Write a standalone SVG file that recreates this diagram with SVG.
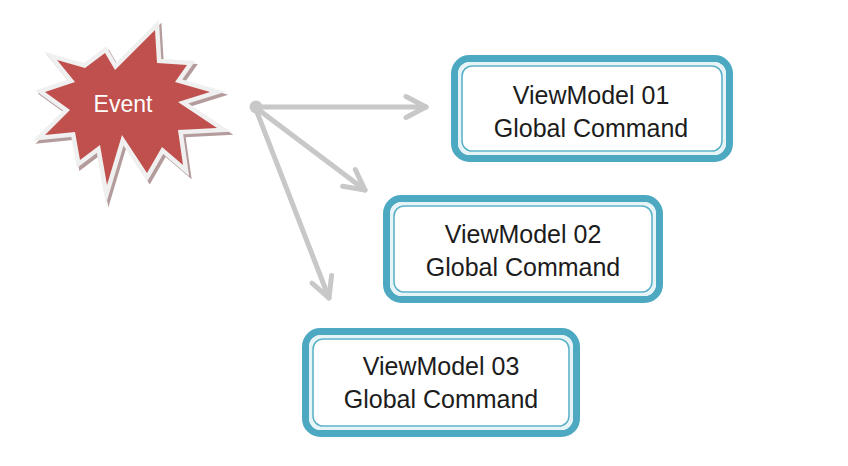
<svg xmlns="http://www.w3.org/2000/svg" width="848" height="466" viewBox="0 0 848 466">
  <style>
    .lbl { font-family: "Liberation Sans", Arial, sans-serif; font-size: 25px; fill: #1c1c1c; text-anchor: middle; }
    .evt { font-family: "Liberation Sans", Arial, sans-serif; font-size: 23px; fill: #ffffff; text-anchor: middle; }
    .outer { fill: #ffffff; stroke: #4DA8C1; stroke-width: 7; }
    .band { fill: none; stroke: #e6f4f8; stroke-width: 3; }
    .inner { fill: none; stroke: #5BB2C9; stroke-width: 1.6; }
    .conn { stroke: #C8C8C8; stroke-width: 5; fill: none; stroke-linecap: round; }
  </style>
  <defs>
    <marker id="arr" markerUnits="userSpaceOnUse" markerWidth="40" markerHeight="40" viewBox="-30 -20 40 40" refX="0" refY="0" orient="auto" overflow="visible">
      <path d="M -20 -10.5 L 0 0 L -20 10.5" fill="none" stroke="#C8C8C8" stroke-width="5" stroke-linecap="round" stroke-linejoin="round"/>
    </marker>
    <polygon id="star" points="57,60 85,68 105,53 115,70 155,30 157,63 187,65 175,82 210,92 178,102 217,128 178,130 183,165 162,147 147,173 122,135 107,185 100,145 80,160 75,132 45,135 70,110 45,92 75,82"/>
  </defs>

  <rect width="848" height="466" fill="#ffffff"/>

  <g id="event">
    <use href="#star" transform="translate(2.5,3)" fill="#9b7b7b" stroke="#9b7b7b" stroke-width="9" stroke-linejoin="miter" stroke-miterlimit="12" opacity="0.75"/>
    <use href="#star" fill="#f0f0f0" stroke="#f0f0f0" stroke-width="9" stroke-linejoin="miter" stroke-miterlimit="12"/>
    <use href="#star" fill="#C0504D"/>
    <text class="evt" x="123" y="112">Event</text>
  </g>

  <g id="connectors">
    <line class="conn" x1="255" y1="107" x2="426" y2="107" marker-end="url(#arr)"/>
    <line class="conn" x1="255" y1="107" x2="365" y2="190" marker-end="url(#arr)"/>
    <line class="conn" x1="255" y1="107" x2="329" y2="298" marker-end="url(#arr)"/>
    <circle cx="256" cy="107" r="6.5" fill="#C8C8C8"/>
  </g>

  <g id="vm01">
    <rect class="outer" x="454.5" y="58.5" width="275" height="100" rx="15"/>
    <rect class="band" x="459.5" y="63.5" width="265" height="90" rx="11"/>
    <rect class="inner" x="462" y="66" width="260" height="85" rx="10"/>
    <text class="lbl" x="591" y="104">ViewModel 01</text>
    <text class="lbl" x="591" y="137">Global Command</text>
  </g>

  <g id="vm02">
    <rect class="outer" x="386.5" y="198.5" width="273" height="101" rx="15"/>
    <rect class="band" x="391.5" y="203.5" width="263" height="91" rx="11"/>
    <rect class="inner" x="394" y="206" width="258" height="86" rx="10"/>
    <text class="lbl" x="523" y="243">ViewModel 02</text>
    <text class="lbl" x="523" y="276">Global Command</text>
  </g>

  <g id="vm03">
    <rect class="outer" x="305.5" y="331.5" width="271" height="102" rx="15"/>
    <rect class="band" x="310.5" y="336.5" width="261" height="92" rx="11"/>
    <rect class="inner" x="313" y="339" width="256" height="87" rx="10"/>
    <text class="lbl" x="441" y="375">ViewModel 03</text>
    <text class="lbl" x="441" y="408">Global Command</text>
  </g>
</svg>
